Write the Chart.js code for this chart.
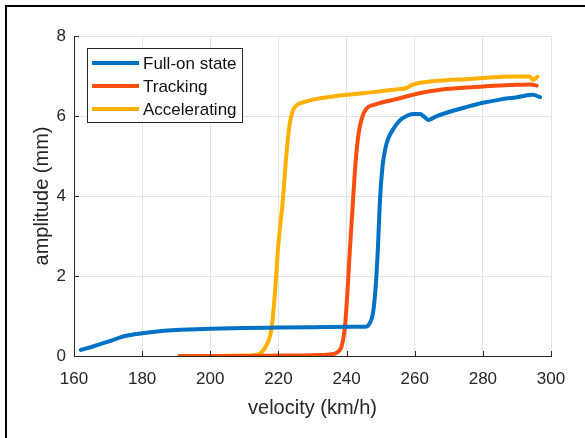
<!DOCTYPE html>
<html>
<head>
<meta charset="utf-8">
<script src="https://cdn.jsdelivr.net/npm/chart.js@4/dist/chart.umd.min.js"></script>
<style>
  html, body { margin: 0; padding: 0; background: #fff; }
  canvas { display: block; }
</style>
</head>
<body>
<canvas id="c" width="585" height="438"></canvas>
<script>
// ---- data ----
const xTicks = [160, 180, 200, 220, 240, 260, 280, 300];
const yTicks = [0, 2, 4, 6, 8];
const seriesNames = ["Full-on state", "Tracking", "Accelerating"];

const fullOnX = [162, 166, 170, 175, 180, 185, 190, 200, 210, 220, 230, 240, 245.5, 246.5, 247.8, 248.6, 249.2, 249.8, 250.5, 251.3, 252.3, 253.6, 255.5, 257.6, 259.5, 261.6, 262.8, 264, 266, 270, 275, 280, 285, 290, 294.7, 296.8];
const fullOnY = [0.15, 0.25, 0.36, 0.50, 0.57, 0.62, 0.65, 0.68, 0.70, 0.71, 0.72, 0.73, 0.73, 0.78, 1.1, 1.8, 2.7, 3.9, 4.7, 5.16, 5.45, 5.66, 5.88, 6.0, 6.05, 6.05, 5.98, 5.9, 5.98, 6.1, 6.22, 6.33, 6.41, 6.47, 6.53, 6.47];

const trackingX = [191, 200, 210, 220, 230, 235, 237, 238.6, 239.6, 240.4, 241, 241.9, 242.7, 243.6, 244.7, 246, 248, 250, 255, 259.5, 262, 266, 270, 275, 280, 285, 290, 294, 295.8];
const trackingY = [0.0, 0.0, 0.0, 0.01, 0.02, 0.04, 0.08, 0.26, 0.8, 1.8, 2.7, 3.9, 4.9, 5.6, 6.0, 6.2, 6.28, 6.33, 6.43, 6.53, 6.58, 6.64, 6.68, 6.71, 6.74, 6.76, 6.78, 6.79, 6.76];

const accelX = [191, 200, 210, 214, 216, 218, 219, 219.9, 221.3, 222.3, 223.3, 224.3, 225.5, 228, 232, 236, 240, 245, 250, 255, 257.6, 259, 261.6, 265, 270, 275, 280, 285.9, 289, 293.8, 294.7, 296];
const accelY = [0.0, 0.0, 0.01, 0.04, 0.2, 0.7, 1.6, 2.7, 3.9, 5.0, 5.8, 6.15, 6.28, 6.36, 6.44, 6.49, 6.53, 6.57, 6.62, 6.67, 6.7, 6.77, 6.83, 6.87, 6.9, 6.92, 6.95, 6.98, 6.99, 6.99, 6.9, 6.98];

const colors = ["#0072C6", "#FA4E0F", "#FFB000"];

function pts(xs, ys) { return xs.map((x, i) => ({ x: x, y: ys[i] })); }

const FONT = "'Liberation Sans', Arial, Helvetica, sans-serif";
const TXT = "#262626";

const framePlugin = {
  id: 'frame',
  beforeDraw(chart) {
    const ctx = chart.ctx;
    ctx.save();
    ctx.fillStyle = '#fff';
    ctx.fillRect(0, 0, chart.width, chart.height);
    ctx.strokeStyle = '#000';
    ctx.lineWidth = 2;
    ctx.strokeRect(6, 6, chart.width + 20, chart.height + 20);
    ctx.restore();
  }
};

const inwardTicks = {
  id: 'inwardTicks',
  afterDatasetsDraw(chart) {
    const ctx = chart.ctx, a = chart.chartArea;
    const xs = chart.scales.x, ys = chart.scales.y;
    ctx.save();
    ctx.strokeStyle = TXT;
    ctx.lineWidth = 1;
    ctx.beginPath();
    xTicks.forEach(v => {
      const p = Math.round(xs.getPixelForValue(v)) + 0.5;
      ctx.moveTo(p, a.bottom); ctx.lineTo(p, a.bottom - 5);
    });
    yTicks.forEach(v => {
      const p = Math.round(ys.getPixelForValue(v)) + 0.5;
      ctx.moveTo(a.left, p); ctx.lineTo(a.left + 5, p);
    });
    ctx.stroke();
    ctx.restore();
  }
};

const boxLegend = {
  id: 'boxLegend',
  afterDatasetsDraw(chart) {
    const ctx = chart.ctx, a = chart.chartArea;
    const x0 = a.left + 13, y0 = a.top + 12, w = 155, h = 74;
    ctx.save();
    ctx.fillStyle = '#fff';
    ctx.fillRect(x0, y0, w, h);
    ctx.strokeStyle = TXT;
    ctx.lineWidth = 1;
    ctx.strokeRect(x0 + 0.5, y0 + 0.5, w, h);
    ctx.font = "17px " + FONT;
    ctx.textBaseline = 'middle';
    ctx.fillStyle = '#111';
    seriesNames.forEach((name, i) => {
      const yy = y0 + 15 + i * 23;
      ctx.strokeStyle = colors[i];
      ctx.lineWidth = 4;
      ctx.beginPath();
      ctx.moveTo(x0 + 5, yy); ctx.lineTo(x0 + 52, yy);
      ctx.stroke();
      ctx.fillText(name, x0 + 56, yy + 1);
    });
    ctx.restore();
  }
};

const datasets = [
  pts(fullOnX, fullOnY), pts(trackingX, trackingY), pts(accelX, accelY)
].map((d, i) => ({
  label: seriesNames[i],
  data: d,
  borderColor: colors[i],
  backgroundColor: colors[i],
  borderWidth: 4,
  pointRadius: 0,
  cubicInterpolationMode: 'monotone',
  borderJoinStyle: 'round',
  borderCapStyle: 'round',
  fill: false
}));
// draw order: blue, red, yellow (later on top)

new Chart(document.getElementById('c'), {
  type: 'line',
  data: { datasets: datasets },
  options: {
    responsive: false,
    animation: false,
    layout: { padding: { left: 0, top: 36, right: 34, bottom: 0 } },
    plugins: { legend: { display: false }, tooltip: { enabled: false } },
    scales: {
      x: {
        type: 'linear',
        min: 160, max: 300,
        afterBuildTicks(s) { s.ticks = xTicks.map(v => ({ value: v })); },
        afterFit(s) { s.height = 82; },
        grid: { color: '#e3e3e3', drawTicks: false, lineWidth: 1 },
        border: { color: TXT, width: 1 },
        ticks: { color: TXT, font: { family: FONT, size: 17 }, padding: 13, maxRotation: 0 },
        title: { display: true, text: 'velocity (km/h)', color: TXT, font: { family: FONT, size: 20 }, padding: { top: 0, bottom: 18 } }
      },
      y: {
        min: 0, max: 8,
        afterBuildTicks(s) { s.ticks = yTicks.map(v => ({ value: v })); },
        afterFit(s) { s.width = 74; },
        grid: { color: '#e3e3e3', drawTicks: false, lineWidth: 1 },
        border: { color: TXT, width: 1 },
        ticks: { color: TXT, font: { family: FONT, size: 17 }, padding: 8 },
        title: { display: true, text: 'amplitude (mm)', color: TXT, font: { family: FONT, size: 20 }, padding: { top: 30, bottom: 0 } }
      }
    }
  },
  plugins: [framePlugin, inwardTicks, boxLegend]
});
</script>
</body>
</html>
